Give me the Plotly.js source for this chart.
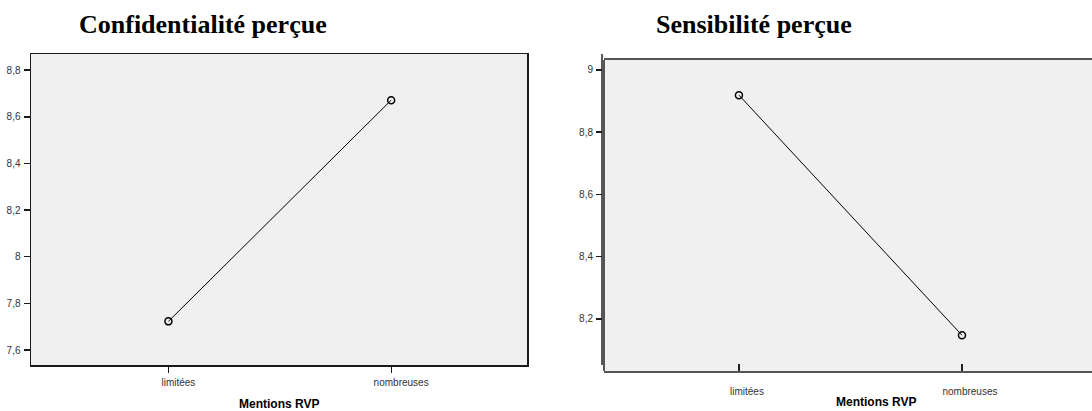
<!DOCTYPE html>
<html>
<head>
<meta charset="utf-8">
<script src="https://cdn.plot.ly/plotly-3.0.1.min.js"></script>
<style>html,body{margin:0;padding:0;background:#fff;}#chart{width:1092px;height:411px;}</style>
</head>
<body>
<div id="chart"></div>
<script>
const categories = ['limitées', 'nombreuses'];
const confidentialite = [7.723, 8.671];
const sensibilite = [8.919, 8.147];
const titles = ['Confidentialité perçue', 'Sensibilité perçue'];
const xTitle = 'Mentions RVP';

const W = 1092, H = 411;
const px = v => v / W;
const py = v => 1 - v / H;

const tickFont = {family: 'Liberation Sans, Arial', size: 10, color: '#333'};
const markerStyle = {symbol: 'circle-open', size: 7, color: '#000', line: {width: 1.5, color: '#000'}};

const traces = [
  {x: categories, y: confidentialite, xaxis: 'x', yaxis: 'y', type: 'scatter', mode: 'lines+markers',
   line: {color: '#000', width: 1}, marker: markerStyle, hoverinfo: 'skip'},
  {x: categories, y: sensibilite, xaxis: 'x2', yaxis: 'y2', type: 'scatter', mode: 'lines+markers',
   line: {color: '#000', width: 1}, marker: markerStyle, hoverinfo: 'skip'}
];

const layout = {
  width: W, height: H,
  margin: {l: 0, r: 0, t: 0, b: 0},
  paper_bgcolor: '#fff',
  plot_bgcolor: '#f0f0f0',
  separators: ',.',
  showlegend: false,
  xaxis: {
    domain: [px(31), px(527)], anchor: 'y', type: 'category', categoryarray: categories,
    range: [-0.617, 1.61], showgrid: false, zeroline: false,
    showline: true, mirror: true, linecolor: '#1a1a1a', linewidth: 1.5,
    ticks: 'outside', ticklen: 6, tickcolor: '#1a1a1a', tickwidth: 1,
    tickfont: tickFont, ticklabelshift: 10, ticklabelstandoff: 1
  },
  yaxis: {
    domain: [py(365), py(54)], anchor: 'x', range: [7.536, 8.869],
    tick0: 7.6, dtick: 0.2, showgrid: false, zeroline: false,
    showline: true, mirror: true, linecolor: '#1a1a1a', linewidth: 1.5,
    ticks: 'outside', ticklen: 6, tickcolor: '#1a1a1a', tickwidth: 1.5,
    tickfont: tickFont, ticklabelstandoff: 1
  },
  xaxis2: {
    domain: [px(604), 1], anchor: 'y2', type: 'category', categoryarray: categories,
    range: [-0.605, 1.583], showgrid: false, zeroline: false,
    showline: true, mirror: true, linecolor: '#555', linewidth: 2,
    ticks: 'inside', ticklen: 7, tickcolor: '#222', tickwidth: 1.5,
    tickfont: tickFont, ticklabelshift: 8, ticklabelstandoff: 10
  },
  yaxis2: {
    domain: [py(371), py(60)], anchor: 'free', position: px(602), range: [8.032, 9.032],
    tick0: 8.2, dtick: 0.2, showgrid: false, zeroline: false, showline: false,
    ticks: 'outside', ticklen: 6, tickcolor: '#1a1a1a', tickwidth: 1.5,
    tickfont: tickFont, ticklabelstandoff: 1
  },
  shapes: [
    {type: 'line', xref: 'paper', yref: 'paper', x0: px(604), x1: px(604), y0: py(371), y1: py(60),
     line: {color: '#555', width: 2}},
    {type: 'line', xref: 'paper', yref: 'paper', x0: px(602), x1: px(602), y0: py(365), y1: py(54),
     line: {color: '#222', width: 1.5}}
  ],
  annotations: [
    {text: titles[0], xref: 'paper', yref: 'paper', x: px(203), y: py(24), xanchor: 'center', yanchor: 'middle',
     showarrow: false, font: {family: 'Liberation Serif, Times New Roman', size: 26, color: '#000', weight: 'bold'}},
    {text: titles[1], xref: 'paper', yref: 'paper', x: px(754), y: py(24), xanchor: 'center', yanchor: 'middle',
     showarrow: false, font: {family: 'Liberation Serif, Times New Roman', size: 26, color: '#000', weight: 'bold'}},
    {text: xTitle, xref: 'paper', yref: 'paper', x: px(279), y: py(404), xanchor: 'center', yanchor: 'middle',
     showarrow: false, font: {family: 'Liberation Sans, Arial', size: 12, color: '#000', weight: 'bold'}},
    {text: xTitle, xref: 'paper', yref: 'paper', x: px(876), y: py(402), xanchor: 'center', yanchor: 'middle',
     showarrow: false, font: {family: 'Liberation Sans, Arial', size: 12, color: '#000', weight: 'bold'}}
  ]
};

Plotly.newPlot('chart', traces, layout, {staticPlot: true, displayModeBar: false});
</script>
</body>
</html>
